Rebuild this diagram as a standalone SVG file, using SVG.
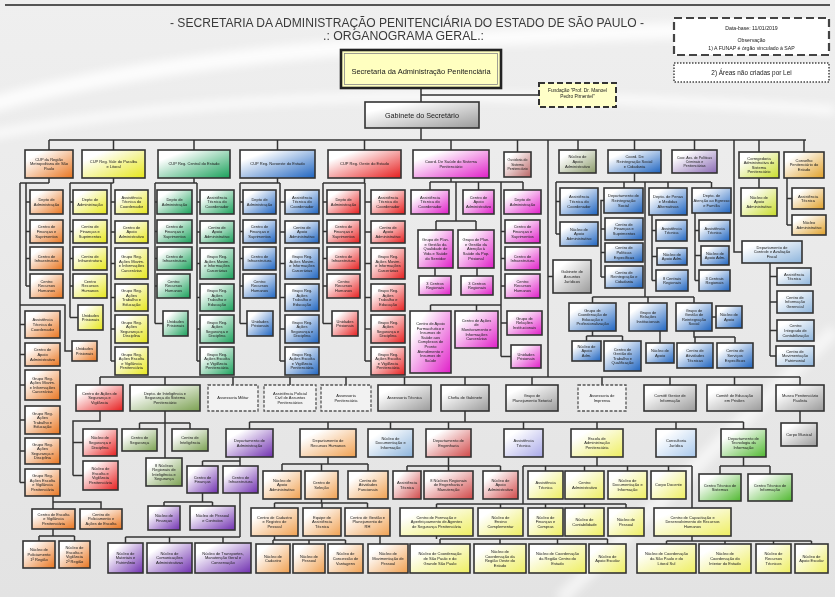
<svg xmlns="http://www.w3.org/2000/svg" width="835" height="597" viewBox="0 0 835 597">
<defs>
<style>
.b{stroke:#333;stroke-width:1.6}
.d{stroke:#555;stroke-width:1.3;stroke-dasharray:3 1.6;fill:#f2f2f2}
.t{font-family:"Liberation Sans",Arial,sans-serif;font-size:4px;fill:#1a1a1a;text-anchor:middle}
.s{font-size:3.5px}
.c{fill:none;stroke:#333;stroke-width:1.5}
</style>
<linearGradient id="bg" x1="0" y1="0" x2="0" y2="1"><stop offset="0" stop-color="#efefef"/><stop offset="1" stop-color="#e3e3e3"/></linearGradient>
<filter id="blur"><feGaussianBlur stdDeviation="5"/></filter>
<linearGradient id="gOr" x1="0" y1="0" x2="1" y2="1"><stop offset=".2" stop-color="#fff"/><stop offset="1" stop-color="#e8741e"/></linearGradient>
<linearGradient id="gYe" x1="0" y1="0" x2="1" y2="1"><stop offset=".2" stop-color="#fff"/><stop offset="1" stop-color="#e6e61a"/></linearGradient>
<linearGradient id="gGr" x1="0" y1="0" x2="1" y2="1"><stop offset=".2" stop-color="#fff"/><stop offset="1" stop-color="#19a05a"/></linearGradient>
<linearGradient id="gBl" x1="0" y1="0" x2="1" y2="1"><stop offset=".2" stop-color="#fff"/><stop offset="1" stop-color="#1e64c0"/></linearGradient>
<linearGradient id="gRe" x1="0" y1="0" x2="1" y2="1"><stop offset=".2" stop-color="#fff"/><stop offset="1" stop-color="#e61e1e"/></linearGradient>
<linearGradient id="gPk" x1="0" y1="0" x2="1" y2="1"><stop offset=".2" stop-color="#fff"/><stop offset="1" stop-color="#e01ec8"/></linearGradient>
<linearGradient id="gRo" x1="0" y1="0" x2="1" y2="1"><stop offset=".2" stop-color="#fff"/><stop offset="1" stop-color="#b86464"/></linearGradient>
<linearGradient id="gOl" x1="0" y1="0" x2="1" y2="1"><stop offset=".2" stop-color="#fff"/><stop offset="1" stop-color="#8a9a6a"/></linearGradient>
<linearGradient id="gLv" x1="0" y1="0" x2="1" y2="1"><stop offset=".2" stop-color="#fff"/><stop offset="1" stop-color="#8a6ab4"/></linearGradient>
<linearGradient id="gYg" x1="0" y1="0" x2="1" y2="1"><stop offset=".2" stop-color="#fff"/><stop offset="1" stop-color="#c8dc28"/></linearGradient>
<linearGradient id="gAm" x1="0" y1="0" x2="1" y2="1"><stop offset=".2" stop-color="#fff"/><stop offset="1" stop-color="#e0a028"/></linearGradient>
<linearGradient id="gGy" x1="0" y1="0" x2="1" y2="1"><stop offset=".2" stop-color="#fff"/><stop offset="1" stop-color="#9a9a9a"/></linearGradient>
<linearGradient id="gLb" x1="0" y1="0" x2="1" y2="1"><stop offset=".2" stop-color="#fff"/><stop offset="1" stop-color="#8cb4dc"/></linearGradient>
<linearGradient id="gLg" x1="0" y1="0" x2="1" y2="1"><stop offset=".2" stop-color="#fff"/><stop offset="1" stop-color="#7aa050"/></linearGradient>
<linearGradient id="gPu" x1="0" y1="0" x2="1" y2="1"><stop offset=".2" stop-color="#fff"/><stop offset="1" stop-color="#7030b0"/></linearGradient>
<linearGradient id="gPe" x1="0" y1="0" x2="1" y2="1"><stop offset=".2" stop-color="#fff"/><stop offset="1" stop-color="#f0a050"/></linearGradient>
<linearGradient id="gRl" x1="0" y1="0" x2="1" y2="1"><stop offset=".2" stop-color="#fff"/><stop offset="1" stop-color="#d04848"/></linearGradient>
<linearGradient id="gLy" x1="0" y1="0" x2="1" y2="1"><stop offset=".2" stop-color="#fff"/><stop offset="1" stop-color="#eeee60"/></linearGradient>
<linearGradient id="gCj" x1="0" y1="0" x2="1" y2="1"><stop offset=".2" stop-color="#fff"/><stop offset="1" stop-color="#a8c8ec"/></linearGradient>
<linearGradient id="gTi" x1="0" y1="0" x2="1" y2="1"><stop offset=".2" stop-color="#fff"/><stop offset="1" stop-color="#50b830"/></linearGradient>
<linearGradient id="gLv2" x1="0" y1="0" x2="1" y2="1"><stop offset=".2" stop-color="#fff"/><stop offset="1" stop-color="#a8a8e8"/></linearGradient>
</defs>

<rect width="835" height="597" fill="url(#bg)"/>
<g filter="url(#blur)" fill="none" stroke="#fff">
<path d="M-10 105 C150 60 350 40 700 30" stroke-width="16" opacity=".85"/>
<path d="M-10 135 C200 95 420 85 835 110" stroke-width="9" opacity=".8"/>
<path d="M560 600 L835 330" stroke-width="14" opacity=".6"/>
</g>
<line x1="5" y1="5" x2="830" y2="5" stroke="#555" stroke-width="2"/>

<g id="title">
<text x="170" y="27" font-family="Liberation Sans, Arial, sans-serif" font-size="12" fill="#3a3a3a" textLength="474" lengthAdjust="spacingAndGlyphs">- SECRETARIA DA ADMINISTRAÇÃO PENITENCIÁRIA DO ESTADO DE SÃO PAULO -</text>
<text x="323" y="40" font-family="Liberation Sans, Arial, sans-serif" font-size="12" fill="#3a3a3a" textLength="161" lengthAdjust="spacingAndGlyphs">.: ORGANOGRAMA GERAL.:</text>
</g>

<g id="legend">
<rect x="674" y="18" width="155" height="37" fill="#fff" stroke="#444" stroke-width="2.2" stroke-dasharray="8 4"/>
<text class="t" x="751.5" y="30" style="font-size:5.2px">Data-base: 11/01/2019</text>
<text class="t" x="751.5" y="42" style="font-size:5.2px">Observação</text>
<text class="t" x="751.5" y="49.5" style="font-size:5.2px">1) A FUNAP é órgão vinculado à SAP</text>
<rect x="674" y="63" width="155" height="19" fill="#fff" stroke="#444" stroke-width="1.5" stroke-dasharray="1.5 1.5"/>
<text class="t" x="751.5" y="75" style="font-size:6.4px">2) Áreas não criadas por Lei</text>
</g>

<g id="connectors">
<path class="c" d="M421 88V102M421 95H539M421 128V140M49 140H806M49 140V150M113.5 140V150M194 140V150M277.5 140V150M364.5 140V150M451 140V150M517.5 140V152M578 140V150M634.5 140V150M694.5 140V150M759 140V152M804 140V152M734 140V252H742M548 140V377"/>
<path class="c" d="M49 178V183M20 183H49M20 183V482.5M26 183V286M26 202H30M26 231.5H30M26 258.5H30M26 286H30M20 324.5H25M20 354.5H25M20 385H25M20 420H25M20 451H25M20 482.5H25M20 305H65V351H72M53 496V509M53 502H101V509M53 529V536M39 536H74.5M39 536V541M74.5 536V541"/>
<path class="c" d="M113.5 178V183M70 183H113.5M70 183V317.5M111 183V361M70 202H73M70 231.5H73M70 258.5H73M70 286H73M70 317.5H78M111 202H115M111 232H115M111 263.5H115M111 297.5H115M111 329H115M111 361H115"/>
<path class="c" d="M194 178V183M155 183H197M155 183V323.5M197 183V361M155 202H157M155 231.5H157M155 258.5H157M155 286H157M155 323.5H163M197 202H200M197 232H200M197 263.5H200M197 297.5H200M197 329H200M197 361H200"/>
<path class="c" d="M277.5 178V183M240 183H280M240 183V323.5M280 183V361M240 202H243M240 231.5H243M240 258.5H243M240 286H243M240 323.5H247M280 202H285M280 232H285M280 263.5H285M280 297.5H285M280 329H285M280 361H285"/>
<path class="c" d="M364.5 178V183M323 183H365M323 183V323.5M365 183V361M323 202H327M323 231.5H327M323 258.5H327M323 286H327M323 323.5H332M365 202H371M365 232H371M365 263.5H371M365 297.5H371M365 329H371M365 361H371"/>
<path class="c" d="M451 178V182M430 182H523M430 182V190M478.5 182V190M523 182V190M501 182V356.5M456 182V221M436 221H476M436 221V230M476 221V230M435 268V276M477 268V276M501 231.5H505M501 258.5H505M501 286H505M430.5 305H501M430.5 305V311M476.5 305V311M501 323H507M501 356.5H511"/>
<path class="c" d="M548 276.5H553M634.5 173V182M556 182H711M556 182V234M556 201.5H560M556 234H560M624 182V188M668 182V188M711.5 182V188M604 200.5H601V277M601 229H605M601 252.5H605M601 277H605M652 215V280.5M652 230.5H656M652 256.5H657M652 280.5H656M695 213V280.5M695 230.5H699M695 255.5H701M695 280.5H699M645 182V297M592.5 297H694M592.5 297V303M648 297V303M694 297V303M592.5 331V336M586.5 336H622.5M586.5 336V341M622.5 336V341M660 331V343M712 317H716M694 331V337H735M695 337V343M735 337V343"/>
<path class="c" d="M770 263V356M770 276.5H777M770 302H777M770 330.5H777M770 356H776M759 178V188M787 178V225M787 198.5H792M787 225H792"/>
<path class="c" d="M100 377H800M100 377V385M165 377V385M233 377V385M290 377V385M346 377V385M404.5 377V385M465 377V385M532 377V385M602 377V385M670 377V385M734.5 377V385M800 377V385M800 411V423"/>
<path class="c" d="M100 411V421H73V475.5M73 442.5H83M73 475.5H83M165 411V458M139.5 423H190M139.5 423V429M190 423V429"/>
<path class="c" d="M465 411V422M249.5 422H743.5M249.5 422V429M328 422V429M390.5 422V429M448.5 422V429M523.5 422V429M597 422V429M676 422V429M743.5 422V429"/>
<path class="c" d="M240 457V466M202.5 461H240M202.5 461V466M202.5 493V502M164 502H212.5M164 502V506M212.5 502V506M240 493V537M125.5 537H240M125.5 537V543M169.5 537V543M223 537V543"/>
<path class="c" d="M328 457V464M282 464H368M282 464V471M321.5 464V471M368 464V471M321.5 499V503M274.5 503H367.5M274.5 503V508M322 503V508M367.5 503V508M274.5 536V540M273 540H345.5M273 540V544M309 540V544M345.5 540V544M380 536V544"/>
<path class="c" d="M448.5 457V466M407 466H500.5M407 466V471M448.5 466V471M500.5 466V471"/>
<path class="c" d="M597 457V466M523 466H692M545.5 466V471M584.5 466V471M627.5 466V471M668.5 466V471M523 466V504M436.5 504H626M436.5 504V508M500.5 504V508M545.5 504V508M584.5 504V508M626 504V508M692 466V508M436.5 536V539M440 539H607.5M440 539V544M500 539V544M557.5 539V544M607.5 539V544M692 536V541M666.5 541H811.5M666.5 541V544M725 541V544M773.5 541V544M811.5 541V544"/>
<path class="c" d="M743.5 457V466M720 466H770M720 466V474M770 466V474"/>
</g>

<g id="secretaria"><rect x="341" y="50" width="160" height="38" fill="#ffffc0" stroke="#222" stroke-width="2.6"/><rect x="344.5" y="53.5" width="153" height="31" fill="none" stroke="#888" stroke-width=".8"/><text class="t" x="421" y="74" style="font-size:7.5px">Secretaria da Administração Penitenciária</text></g>
<g id="fundacao"><rect x="539" y="83" width="77" height="24" fill="#ffffc8" stroke="#333" stroke-width="2" stroke-dasharray="6 3"/><text class="t" x="577.5" y="92" style="font-size:4.8px"><tspan x="577.5">Fundação "Prof. Dr. Manoel</tspan><tspan x="577.5" dy="6">Pedro Pimentel"</tspan></text></g>
<g id="gabinete"><rect class="b" x="365" y="102" width="114" height="26" fill="url(#gGy)"/><text class="t" x="422" y="117.5" style="font-size:7.2px">Gabinete do Secretário</text></g>

<g id="cup1"><rect class="b" x="25" y="150" width="48" height="28" fill="url(#gOr)"/><text class="t" x="49" y="160.8"><tspan x="49">CUP da Região</tspan><tspan x="49" dy="4.6">Metropolitana de São</tspan><tspan x="49" dy="4.6">Paulo</tspan></text></g>
<g id="cup2"><rect class="b" x="82" y="150" width="63" height="28" fill="url(#gYe)"/><text class="t" x="113.5" y="163.1"><tspan x="113.5">CUP Reg. Vale do Paraíba</tspan><tspan x="113.5" dy="4.6">e Litoral</tspan></text></g>
<g id="cup3"><rect class="b" x="158" y="150" width="72" height="28" fill="url(#gGr)"/><text class="t" x="194" y="165.4">CUP Reg. Central do Estado</text></g>
<g id="cup4"><rect class="b" x="240" y="150" width="75" height="28" fill="url(#gBl)"/><text class="t" x="277.5" y="165.4">CUP Reg. Noroeste do Estado</text></g>
<g id="cup5"><rect class="b" x="328" y="150" width="73" height="28" fill="url(#gRe)"/><text class="t" x="364.5" y="165.4">CUP Reg. Oeste do Estado</text></g>
<g id="saude"><rect class="b" x="413" y="150" width="76" height="28" fill="url(#gPk)"/><text class="t" x="451" y="163.1"><tspan x="451">Coord. De Saúde do Sistema</tspan><tspan x="451" dy="4.6">Penitenciário</tspan></text></g>
<g id="ouvidoria"><rect class="b" x="504" y="152" width="27" height="25" fill="url(#gRo)"/><text class="t s" x="517.5" y="161.3"><tspan x="517.5">Ouvidoria do</tspan><tspan x="517.5" dy="4.4">Sistema</tspan><tspan x="517.5" dy="4.4">Penitenciário</tspan></text></g>
<g id="nucleo-apoio"><rect class="b" x="559" y="150" width="37" height="23" fill="url(#gOl)"/><text class="t" x="577.5" y="158.3"><tspan x="577.5">Núcleo de</tspan><tspan x="577.5" dy="4.6">Apoio</tspan><tspan x="577.5" dy="4.6">Administrativo</tspan></text></g>
<g id="reintegracao"><rect class="b" x="608" y="150" width="53" height="23" fill="url(#gBl)"/><text class="t" x="634.5" y="158.3"><tspan x="634.5">Coord. De</tspan><tspan x="634.5" dy="4.6">Reintegração Social</tspan><tspan x="634.5" dy="4.6">e Cidadania</tspan></text></g>
<g id="politicas"><rect class="b" x="672" y="150" width="45" height="23" fill="url(#gLv)"/><text class="t s" x="694.5" y="158.5"><tspan x="694.5">Coor. Ass. de Políticas</tspan><tspan x="694.5" dy="4.4">Criminais e</tspan><tspan x="694.5" dy="4.4">Penitenciárias</tspan></text></g>
<g id="corregedoria"><rect class="b" x="739" y="152" width="40" height="26" fill="url(#gYg)"/><text class="t" x="759" y="159.5"><tspan x="759">Corregedoria</tspan><tspan x="759" dy="4.6">Administrativa do</tspan><tspan x="759" dy="4.6">Sistema</tspan><tspan x="759" dy="4.6">Penitenciário</tspan></text></g>
<g id="conselho"><rect class="b" x="784" y="152" width="40" height="26" fill="url(#gAm)"/><text class="t" x="804" y="161.8"><tspan x="804">Conselho</tspan><tspan x="804" dy="4.6">Penitenciário do</tspan><tspan x="804" dy="4.6">Estado</tspan></text></g>

<!-- CUP RMSP children -->
<g id="o1"><rect class="b" x="30" y="190" width="33" height="24" fill="url(#gOr)"/><text class="t" x="46.5" y="201.1"><tspan x="46.5">Depto de</tspan><tspan x="46.5" dy="4.6">Administração</tspan></text></g>
<g id="o2"><rect class="b" x="30" y="220" width="33" height="23" fill="url(#gOr)"/><text class="t" x="46.5" y="228.3"><tspan x="46.5">Centro de</tspan><tspan x="46.5" dy="4.6">Finanças e</tspan><tspan x="46.5" dy="4.6">Suprimentos</tspan></text></g>
<g id="o3"><rect class="b" x="30" y="247" width="33" height="23" fill="url(#gOr)"/><text class="t" x="46.5" y="257.6"><tspan x="46.5">Centro de</tspan><tspan x="46.5" dy="4.6">Infraestrutura</tspan></text></g>
<g id="o4"><rect class="b" x="30" y="274" width="33" height="24" fill="url(#gOr)"/><text class="t" x="46.5" y="282.8"><tspan x="46.5">Centro</tspan><tspan x="46.5" dy="4.6">Recursos</tspan><tspan x="46.5" dy="4.6">Humanos</tspan></text></g>
<g id="o5"><rect class="b" x="25" y="311" width="35" height="27" fill="url(#gOr)"/><text class="t" x="42.5" y="321.3"><tspan x="42.5">Assistência</tspan><tspan x="42.5" dy="4.6">Técnica do</tspan><tspan x="42.5" dy="4.6">Coordenador</tspan></text></g>
<g id="o6"><rect class="b" x="25" y="343" width="35" height="23" fill="url(#gOr)"/><text class="t" x="42.5" y="351.3"><tspan x="42.5">Centro de</tspan><tspan x="42.5" dy="4.6">Apoio</tspan><tspan x="42.5" dy="4.6">Administrativo</tspan></text></g>
<g id="o7"><rect class="b" x="25" y="370" width="35" height="30" fill="url(#gOr)"/><text class="t" x="42.5" y="379.5"><tspan x="42.5">Grupo Reg.</tspan><tspan x="42.5" dy="4.6">Ações Movim.</tspan><tspan x="42.5" dy="4.6">e Informações</tspan><tspan x="42.5" dy="4.6">Carcerárias</tspan></text></g>
<g id="o8"><rect class="b" x="25" y="406" width="35" height="28" fill="url(#gOr)"/><text class="t" x="42.5" y="414.5"><tspan x="42.5">Grupo Reg.</tspan><tspan x="42.5" dy="4.6">Ações</tspan><tspan x="42.5" dy="4.6">Trabalho e</tspan><tspan x="42.5" dy="4.6">Educação</tspan></text></g>
<g id="o9"><rect class="b" x="25" y="438" width="35" height="26" fill="url(#gOr)"/><text class="t" x="42.5" y="445.5"><tspan x="42.5">Grupo Reg.</tspan><tspan x="42.5" dy="4.6">Ações</tspan><tspan x="42.5" dy="4.6">Segurança e</tspan><tspan x="42.5" dy="4.6">Disciplina</tspan></text></g>
<g id="o10"><rect class="b" x="25" y="469" width="35" height="27" fill="url(#gOr)"/><text class="t" x="42.5" y="477"><tspan x="42.5">Grupo Reg.</tspan><tspan x="42.5" dy="4.6">Ações Escolta</tspan><tspan x="42.5" dy="4.6">e Vigilância</tspan><tspan x="42.5" dy="4.6">Penitenciária</tspan></text></g>
<g id="o11"><rect class="b" x="72" y="341" width="25" height="20" fill="url(#gOr)"/><text class="t" x="84.5" y="350.1"><tspan x="84.5">Unidades</tspan><tspan x="84.5" dy="4.6">Prisionais</tspan></text></g>
<g id="o12"><rect class="b" x="32" y="509" width="43" height="20" fill="url(#gOr)"/><text class="t" x="53.5" y="515.8"><tspan x="53.5">Centro de Escolta</tspan><tspan x="53.5" dy="4.6">e Vigilância</tspan><tspan x="53.5" dy="4.6">Penitenciária</tspan></text></g>
<g id="o13"><rect class="b" x="80" y="509" width="42" height="20" fill="url(#gOr)"/><text class="t" x="101" y="515.8"><tspan x="101">Centro de</tspan><tspan x="101" dy="4.6">Policiamento e</tspan><tspan x="101" dy="4.6">Ações de Escolta</tspan></text></g>
<g id="o14"><rect class="b" x="23" y="541" width="32" height="27" fill="url(#gOr)"/><text class="t" x="39" y="551.3"><tspan x="39">Núcleo de</tspan><tspan x="39" dy="4.6">Policiamento</tspan><tspan x="39" dy="4.6">1ª Região</tspan></text></g>
<g id="o15"><rect class="b" x="59" y="541" width="31" height="27" fill="url(#gOr)"/><text class="t" x="74.5" y="549"><tspan x="74.5">Núcleo de</tspan><tspan x="74.5" dy="4.6">Escolta e</tspan><tspan x="74.5" dy="4.6">Vigilância</tspan><tspan x="74.5" dy="4.6">2ª Região</tspan></text></g>

<!-- CUP Vale children -->
<g id="y1"><rect class="b" x="73" y="190" width="34" height="24" fill="url(#gYe)"/><text class="t" x="90" y="201.1"><tspan x="90">Depto de</tspan><tspan x="90" dy="4.6">Administração</tspan></text></g>
<g id="y2"><rect class="b" x="73" y="220" width="34" height="23" fill="url(#gYe)"/><text class="t" x="90" y="228.3"><tspan x="90">Centro de</tspan><tspan x="90" dy="4.6">Finanças e</tspan><tspan x="90" dy="4.6">Suprimentos</tspan></text></g>
<g id="y3"><rect class="b" x="73" y="247" width="34" height="23" fill="url(#gYe)"/><text class="t" x="90" y="257.6"><tspan x="90">Centro de</tspan><tspan x="90" dy="4.6">Infraestrutura</tspan></text></g>
<g id="y4"><rect class="b" x="73" y="274" width="34" height="24" fill="url(#gYe)"/><text class="t" x="90" y="282.8"><tspan x="90">Centro</tspan><tspan x="90" dy="4.6">Recursos</tspan><tspan x="90" dy="4.6">Humanos</tspan></text></g>
<g id="y5"><rect class="b" x="78" y="305" width="25" height="25" fill="url(#gYe)"/><text class="t" x="90.5" y="316.6"><tspan x="90.5">Unidades</tspan><tspan x="90.5" dy="4.6">Prisionais</tspan></text></g>
<g id="y6"><rect class="b" x="115" y="190" width="33" height="24" fill="url(#gYe)"/><text class="t" x="131.5" y="198.8"><tspan x="131.5">Assistência</tspan><tspan x="131.5" dy="4.6">Técnica do</tspan><tspan x="131.5" dy="4.6">Coordenador</tspan></text></g>
<g id="y7"><rect class="b" x="115" y="221" width="33" height="22" fill="url(#gYe)"/><text class="t" x="131.5" y="228.8"><tspan x="131.5">Centro de</tspan><tspan x="131.5" dy="4.6">Apoio</tspan><tspan x="131.5" dy="4.6">Administrativo</tspan></text></g>
<g id="y8"><rect class="b" x="115" y="248" width="33" height="31" fill="url(#gYe)"/><text class="t" x="131.5" y="258"><tspan x="131.5">Grupo Reg.</tspan><tspan x="131.5" dy="4.6">Ações Movim.</tspan><tspan x="131.5" dy="4.6">e Informações</tspan><tspan x="131.5" dy="4.6">Carcerárias</tspan></text></g>
<g id="y9"><rect class="b" x="115" y="284" width="33" height="27" fill="url(#gYe)"/><text class="t" x="131.5" y="292"><tspan x="131.5">Grupo Reg.</tspan><tspan x="131.5" dy="4.6">Ações</tspan><tspan x="131.5" dy="4.6">Trabalho e</tspan><tspan x="131.5" dy="4.6">Educação</tspan></text></g>
<g id="y10"><rect class="b" x="115" y="315" width="33" height="28" fill="url(#gYe)"/><text class="t" x="131.5" y="323.5"><tspan x="131.5">Grupo Reg.</tspan><tspan x="131.5" dy="4.6">Ações</tspan><tspan x="131.5" dy="4.6">Segurança e</tspan><tspan x="131.5" dy="4.6">Disciplina</tspan></text></g>
<g id="y11"><rect class="b" x="115" y="347" width="33" height="28" fill="url(#gYe)"/><text class="t" x="131.5" y="355.5"><tspan x="131.5">Grupo Reg.</tspan><tspan x="131.5" dy="4.6">Ações Escolta</tspan><tspan x="131.5" dy="4.6">e Vigilância</tspan><tspan x="131.5" dy="4.6">Penitenciária</tspan></text></g>

<!-- CUP Central children -->
<g id="v1"><rect class="b" x="157" y="190" width="35" height="24" fill="url(#gGr)"/><text class="t" x="174.5" y="201.1"><tspan x="174.5">Depto de</tspan><tspan x="174.5" dy="4.6">Administração</tspan></text></g>
<g id="v2"><rect class="b" x="157" y="220" width="35" height="23" fill="url(#gGr)"/><text class="t" x="174.5" y="228.3"><tspan x="174.5">Centro de</tspan><tspan x="174.5" dy="4.6">Finanças e</tspan><tspan x="174.5" dy="4.6">Suprimentos</tspan></text></g>
<g id="v3"><rect class="b" x="157" y="247" width="35" height="23" fill="url(#gGr)"/><text class="t" x="174.5" y="257.6"><tspan x="174.5">Centro de</tspan><tspan x="174.5" dy="4.6">Infraestrutura</tspan></text></g>
<g id="v4"><rect class="b" x="157" y="274" width="33" height="24" fill="url(#gGr)"/><text class="t" x="173.5" y="282.8"><tspan x="173.5">Centro</tspan><tspan x="173.5" dy="4.6">Recursos</tspan><tspan x="173.5" dy="4.6">Humanos</tspan></text></g>
<g id="v5"><rect class="b" x="163" y="311" width="25" height="25" fill="url(#gGr)"/><text class="t" x="175.5" y="322.6"><tspan x="175.5">Unidades</tspan><tspan x="175.5" dy="4.6">Prisionais</tspan></text></g>
<g id="v6"><rect class="b" x="200" y="190" width="34" height="24" fill="url(#gGr)"/><text class="t" x="217" y="198.8"><tspan x="217">Assistência</tspan><tspan x="217" dy="4.6">Técnica do</tspan><tspan x="217" dy="4.6">Coordenador</tspan></text></g>
<g id="v7"><rect class="b" x="200" y="221" width="34" height="22" fill="url(#gGr)"/><text class="t" x="217" y="228.8"><tspan x="217">Centro de</tspan><tspan x="217" dy="4.6">Apoio</tspan><tspan x="217" dy="4.6">Administrativo</tspan></text></g>
<g id="v8"><rect class="b" x="200" y="248" width="34" height="31" fill="url(#gGr)"/><text class="t" x="217" y="258"><tspan x="217">Grupo Reg.</tspan><tspan x="217" dy="4.6">Ações Movim.</tspan><tspan x="217" dy="4.6">e Informações</tspan><tspan x="217" dy="4.6">Carcerárias</tspan></text></g>
<g id="v9"><rect class="b" x="200" y="284" width="34" height="27" fill="url(#gGr)"/><text class="t" x="217" y="292"><tspan x="217">Grupo Reg.</tspan><tspan x="217" dy="4.6">Ações</tspan><tspan x="217" dy="4.6">Trabalho e</tspan><tspan x="217" dy="4.6">Educação</tspan></text></g>
<g id="v10"><rect class="b" x="200" y="315" width="34" height="28" fill="url(#gGr)"/><text class="t" x="217" y="323.5"><tspan x="217">Grupo Reg.</tspan><tspan x="217" dy="4.6">Ações</tspan><tspan x="217" dy="4.6">Segurança e</tspan><tspan x="217" dy="4.6">Disciplina</tspan></text></g>
<g id="v11"><rect class="b" x="200" y="347" width="34" height="28" fill="url(#gGr)"/><text class="t" x="217" y="355.5"><tspan x="217">Grupo Reg.</tspan><tspan x="217" dy="4.6">Ações Escolta</tspan><tspan x="217" dy="4.6">e Vigilância</tspan><tspan x="217" dy="4.6">Penitenciária</tspan></text></g>

<!-- CUP Noroeste children -->
<g id="n1"><rect class="b" x="243" y="190" width="33" height="24" fill="url(#gBl)"/><text class="t" x="259.5" y="201.1"><tspan x="259.5">Depto de</tspan><tspan x="259.5" dy="4.6">Administração</tspan></text></g>
<g id="n2"><rect class="b" x="243" y="220" width="33" height="23" fill="url(#gBl)"/><text class="t" x="259.5" y="228.3"><tspan x="259.5">Centro de</tspan><tspan x="259.5" dy="4.6">Finanças e</tspan><tspan x="259.5" dy="4.6">Suprimentos</tspan></text></g>
<g id="n3"><rect class="b" x="243" y="247" width="33" height="23" fill="url(#gBl)"/><text class="t" x="259.5" y="257.6"><tspan x="259.5">Centro de</tspan><tspan x="259.5" dy="4.6">Infraestrutura</tspan></text></g>
<g id="n4"><rect class="b" x="243" y="274" width="33" height="24" fill="url(#gBl)"/><text class="t" x="259.5" y="282.8"><tspan x="259.5">Centro</tspan><tspan x="259.5" dy="4.6">Recursos</tspan><tspan x="259.5" dy="4.6">Humanos</tspan></text></g>
<g id="n5"><rect class="b" x="247" y="311" width="26" height="25" fill="url(#gBl)"/><text class="t" x="260" y="322.6"><tspan x="260">Unidades</tspan><tspan x="260" dy="4.6">Prisionais</tspan></text></g>
<g id="n6"><rect class="b" x="285" y="190" width="34" height="24" fill="url(#gBl)"/><text class="t" x="302" y="198.8"><tspan x="302">Assistência</tspan><tspan x="302" dy="4.6">Técnica do</tspan><tspan x="302" dy="4.6">Coordenador</tspan></text></g>
<g id="n7"><rect class="b" x="285" y="221" width="34" height="22" fill="url(#gBl)"/><text class="t" x="302" y="228.8"><tspan x="302">Centro de</tspan><tspan x="302" dy="4.6">Apoio</tspan><tspan x="302" dy="4.6">Administrativo</tspan></text></g>
<g id="n8"><rect class="b" x="285" y="248" width="34" height="31" fill="url(#gBl)"/><text class="t" x="302" y="258"><tspan x="302">Grupo Reg.</tspan><tspan x="302" dy="4.6">Ações Movim.</tspan><tspan x="302" dy="4.6">e Informações</tspan><tspan x="302" dy="4.6">Carcerárias</tspan></text></g>
<g id="n9"><rect class="b" x="285" y="284" width="34" height="27" fill="url(#gBl)"/><text class="t" x="302" y="292"><tspan x="302">Grupo Reg.</tspan><tspan x="302" dy="4.6">Ações</tspan><tspan x="302" dy="4.6">Trabalho e</tspan><tspan x="302" dy="4.6">Educação</tspan></text></g>
<g id="n10"><rect class="b" x="285" y="315" width="34" height="28" fill="url(#gBl)"/><text class="t" x="302" y="323.5"><tspan x="302">Grupo Reg.</tspan><tspan x="302" dy="4.6">Ações</tspan><tspan x="302" dy="4.6">Segurança e</tspan><tspan x="302" dy="4.6">Disciplina</tspan></text></g>
<g id="n11"><rect class="b" x="285" y="347" width="34" height="28" fill="url(#gBl)"/><text class="t" x="302" y="355.5"><tspan x="302">Grupo Reg.</tspan><tspan x="302" dy="4.6">Ações Escolta</tspan><tspan x="302" dy="4.6">e Vigilância</tspan><tspan x="302" dy="4.6">Penitenciária</tspan></text></g>

<!-- CUP Oeste children -->
<g id="w1"><rect class="b" x="327" y="190" width="33" height="24" fill="url(#gRe)"/><text class="t" x="343.5" y="201.1"><tspan x="343.5">Depto de</tspan><tspan x="343.5" dy="4.6">Administração</tspan></text></g>
<g id="w2"><rect class="b" x="327" y="220" width="33" height="23" fill="url(#gRe)"/><text class="t" x="343.5" y="228.3"><tspan x="343.5">Centro de</tspan><tspan x="343.5" dy="4.6">Finanças e</tspan><tspan x="343.5" dy="4.6">Suprimentos</tspan></text></g>
<g id="w3"><rect class="b" x="327" y="247" width="33" height="23" fill="url(#gRe)"/><text class="t" x="343.5" y="257.6"><tspan x="343.5">Centro de</tspan><tspan x="343.5" dy="4.6">Infraestrutura</tspan></text></g>
<g id="w4"><rect class="b" x="327" y="274" width="33" height="24" fill="url(#gRe)"/><text class="t" x="343.5" y="282.8"><tspan x="343.5">Centro</tspan><tspan x="343.5" dy="4.6">Recursos</tspan><tspan x="343.5" dy="4.6">Humanos</tspan></text></g>
<g id="w5"><rect class="b" x="332" y="311" width="26" height="25" fill="url(#gRe)"/><text class="t" x="345" y="322.6"><tspan x="345">Unidades</tspan><tspan x="345" dy="4.6">Prisionais</tspan></text></g>
<g id="w6"><rect class="b" x="371" y="190" width="34" height="24" fill="url(#gRe)"/><text class="t" x="388" y="198.8"><tspan x="388">Assistência</tspan><tspan x="388" dy="4.6">Técnica do</tspan><tspan x="388" dy="4.6">Coordenador</tspan></text></g>
<g id="w7"><rect class="b" x="371" y="221" width="34" height="22" fill="url(#gRe)"/><text class="t" x="388" y="228.8"><tspan x="388">Centro de</tspan><tspan x="388" dy="4.6">Apoio</tspan><tspan x="388" dy="4.6">Administrativo</tspan></text></g>
<g id="w8"><rect class="b" x="371" y="248" width="34" height="31" fill="url(#gRe)"/><text class="t" x="388" y="258"><tspan x="388">Grupo Reg.</tspan><tspan x="388" dy="4.6">Ações Movim.</tspan><tspan x="388" dy="4.6">e Informações</tspan><tspan x="388" dy="4.6">Carcerárias</tspan></text></g>
<g id="w9"><rect class="b" x="371" y="284" width="34" height="27" fill="url(#gRe)"/><text class="t" x="388" y="292"><tspan x="388">Grupo Reg.</tspan><tspan x="388" dy="4.6">Ações</tspan><tspan x="388" dy="4.6">Trabalho e</tspan><tspan x="388" dy="4.6">Educação</tspan></text></g>
<g id="w10"><rect class="b" x="371" y="315" width="34" height="28" fill="url(#gRe)"/><text class="t" x="388" y="323.5"><tspan x="388">Grupo Reg.</tspan><tspan x="388" dy="4.6">Ações</tspan><tspan x="388" dy="4.6">Segurança e</tspan><tspan x="388" dy="4.6">Disciplina</tspan></text></g>
<g id="w11"><rect class="b" x="371" y="347" width="34" height="28" fill="url(#gRe)"/><text class="t" x="388" y="355.5"><tspan x="388">Grupo Reg.</tspan><tspan x="388" dy="4.6">Ações Escolta</tspan><tspan x="388" dy="4.6">e Vigilância</tspan><tspan x="388" dy="4.6">Penitenciária</tspan></text></g>

<!-- Saude children -->
<g id="p1"><rect class="b" x="411" y="190" width="38" height="24" fill="url(#gPk)"/><text class="t" x="430" y="198.8"><tspan x="430">Assistência</tspan><tspan x="430" dy="4.6">Técnica do</tspan><tspan x="430" dy="4.6">Coordenador</tspan></text></g>
<g id="p2"><rect class="b" x="463" y="190" width="31" height="24" fill="url(#gPk)"/><text class="t" x="478.5" y="198.8"><tspan x="478.5">Centro de</tspan><tspan x="478.5" dy="4.6">Apoio</tspan><tspan x="478.5" dy="4.6">Administrativo</tspan></text></g>
<g id="p3"><rect class="b" x="504" y="190" width="37" height="24" fill="url(#gPk)"/><text class="t" x="522.5" y="201.1"><tspan x="522.5">Depto de</tspan><tspan x="522.5" dy="4.6">Administração</tspan></text></g>
<g id="p4"><rect class="b" x="418" y="230" width="35" height="38" fill="url(#gPk)"/><text class="t" x="435.5" y="241.2"><tspan x="435.5">Grupo de Plan.</tspan><tspan x="435.5" dy="4.6">e Gestão da</tspan><tspan x="435.5" dy="4.6">Qualidade de</tspan><tspan x="435.5" dy="4.6">Vida e Saúde</tspan><tspan x="435.5" dy="4.6">do Servidor</tspan></text></g>
<g id="p5"><rect class="b" x="458" y="230" width="36" height="38" fill="url(#gPk)"/><text class="t" x="476" y="241.2"><tspan x="476">Grupo de Plan.</tspan><tspan x="476" dy="4.6">e Gestão da</tspan><tspan x="476" dy="4.6">Atenção à</tspan><tspan x="476" dy="4.6">Saúde da Pop.</tspan><tspan x="476" dy="4.6">Prisional</tspan></text></g>
<g id="p6"><rect class="b" x="419" y="276" width="32" height="19" fill="url(#gPk)"/><text class="t" x="435" y="284.6"><tspan x="435">3 Centros</tspan><tspan x="435" dy="4.6">Regionais</tspan></text></g>
<g id="p7"><rect class="b" x="461" y="276" width="32" height="19" fill="url(#gPk)"/><text class="t" x="477" y="284.6"><tspan x="477">3 Centros</tspan><tspan x="477" dy="4.6">Regionais</tspan></text></g>
<g id="p8"><rect class="b" x="505" y="220" width="35" height="23" fill="url(#gPk)"/><text class="t" x="522.5" y="228.3"><tspan x="522.5">Centro de</tspan><tspan x="522.5" dy="4.6">Finanças e</tspan><tspan x="522.5" dy="4.6">Suprimentos</tspan></text></g>
<g id="p9"><rect class="b" x="505" y="247" width="35" height="23" fill="url(#gPk)"/><text class="t" x="522.5" y="257.6"><tspan x="522.5">Centro de</tspan><tspan x="522.5" dy="4.6">Infraestrutura</tspan></text></g>
<g id="p10"><rect class="b" x="505" y="274" width="35" height="24" fill="url(#gPk)"/><text class="t" x="522.5" y="282.8"><tspan x="522.5">Centro</tspan><tspan x="522.5" dy="4.6">Recursos</tspan><tspan x="522.5" dy="4.6">Humanos</tspan></text></g>
<g id="p11"><rect class="b" x="410" y="311" width="41" height="62" fill="url(#gPk)"/><text class="t" x="430.5" y="325"><tspan x="430.5">Centro de Apoio</tspan><tspan x="430.5" dy="4.6">Farmacêutico e</tspan><tspan x="430.5" dy="4.6">Insumos de</tspan><tspan x="430.5" dy="4.6">Saúde aos</tspan><tspan x="430.5" dy="4.6">Complexos de</tspan><tspan x="430.5" dy="4.6">Pronto</tspan><tspan x="430.5" dy="4.6">Atendimento e</tspan><tspan x="430.5" dy="4.6">Insumos de</tspan><tspan x="430.5" dy="4.6">Saúde</tspan></text></g>
<g id="p12"><rect class="b" x="455" y="311" width="43" height="37" fill="url(#gPk)"/><text class="t" x="476.5" y="321.7"><tspan x="476.5">Centro de Ações</tspan><tspan x="476.5" dy="4.6">de</tspan><tspan x="476.5" dy="4.6">Monitoramento e</tspan><tspan x="476.5" dy="4.6">Informações</tspan><tspan x="476.5" dy="4.6">Carcerárias</tspan></text></g>
<g id="p13"><rect class="b" x="507" y="311" width="35" height="24" fill="url(#gPk)"/><text class="t" x="524.5" y="319.8"><tspan x="524.5">Grupo de</tspan><tspan x="524.5" dy="4.6">Relações</tspan><tspan x="524.5" dy="4.6">Institucionais</tspan></text></g>
<g id="p14"><rect class="b" x="511" y="345" width="30" height="23" fill="url(#gPk)"/><text class="t" x="526" y="355.6"><tspan x="526">Unidades</tspan><tspan x="526" dy="4.6">Prisionais</tspan></text></g>

<g id="gab-juridico"><rect class="b" x="553" y="260" width="38" height="33" fill="url(#gGy)"/><text class="t" x="572" y="273.3"><tspan x="572">Gabinete de</tspan><tspan x="572" dy="4.6">Assuntos</tspan><tspan x="572" dy="4.6">Jurídicos</tspan></text></g>

<!-- Reintegracao children -->
<g id="b1"><rect class="b" x="560" y="188" width="38" height="27" fill="url(#gBl)"/><text class="t" x="579" y="198.3"><tspan x="579">Assistência</tspan><tspan x="579" dy="4.6">Técnica do</tspan><tspan x="579" dy="4.6">Coordenador</tspan></text></g>
<g id="b2"><rect class="b" x="560" y="222" width="38" height="24" fill="url(#gBl)"/><text class="t" x="579" y="230.8"><tspan x="579">Núcleo de</tspan><tspan x="579" dy="4.6">Apoio</tspan><tspan x="579" dy="4.6">Administrativo</tspan></text></g>
<g id="b3"><rect class="b" x="604" y="188" width="39" height="25" fill="url(#gBl)"/><text class="t" x="623.5" y="197.3"><tspan x="623.5">Departamento de</tspan><tspan x="623.5" dy="4.6">Reintegração</tspan><tspan x="623.5" dy="4.6">Social</tspan></text></g>
<g id="b4"><rect class="b" x="605" y="218" width="38" height="22" fill="url(#gBl)"/><text class="t" x="624" y="225.8"><tspan x="624">Centro de</tspan><tspan x="624" dy="4.6">Finanças e</tspan><tspan x="624" dy="4.6">Suprimentos</tspan></text></g>
<g id="b5"><rect class="b" x="605" y="243" width="38" height="19" fill="url(#gBl)"/><text class="t" x="624" y="249.3"><tspan x="624">Centro de</tspan><tspan x="624" dy="4.6">Políticas</tspan><tspan x="624" dy="4.6">Específicas</tspan></text></g>
<g id="b6"><rect class="b" x="605" y="266" width="38" height="22" fill="url(#gBl)"/><text class="t" x="624" y="273.8"><tspan x="624">Centro de</tspan><tspan x="624" dy="4.6">Reintegração e</tspan><tspan x="624" dy="4.6">Cidadania</tspan></text></g>
<g id="b7"><rect class="b" x="649" y="188" width="38" height="27" fill="url(#gBl)"/><text class="t" x="668" y="198.3"><tspan x="668">Depto. de Penas</tspan><tspan x="668" dy="4.6">e Medidas</tspan><tspan x="668" dy="4.6">Alternativas</tspan></text></g>
<g id="b8"><rect class="b" x="656" y="220" width="31" height="21" fill="url(#gBl)"/><text class="t" x="671.5" y="229.6"><tspan x="671.5">Assistência</tspan><tspan x="671.5" dy="4.6">Técnica</tspan></text></g>
<g id="b9"><rect class="b" x="657" y="248" width="30" height="17" fill="url(#gBl)"/><text class="t" x="672" y="255.6"><tspan x="672">Núcleo de</tspan><tspan x="672" dy="4.6">Apoio Adm.</tspan></text></g>
<g id="b10"><rect class="b" x="656" y="270" width="32" height="21" fill="url(#gBl)"/><text class="t" x="672" y="279.6"><tspan x="672">8 Centrais</tspan><tspan x="672" dy="4.6">Regionais</tspan></text></g>
<g id="b11"><rect class="b" x="692" y="188" width="39" height="25" fill="url(#gBl)"/><text class="t" x="711.5" y="197.3"><tspan x="711.5">Depto. de</tspan><tspan x="711.5" dy="4.6">Atenção ao Egresso</tspan><tspan x="711.5" dy="4.6">e Família</tspan></text></g>
<g id="b12"><rect class="b" x="699" y="220" width="31" height="21" fill="url(#gBl)"/><text class="t" x="714.5" y="229.6"><tspan x="714.5">Assistência</tspan><tspan x="714.5" dy="4.6">Técnica</tspan></text></g>
<g id="b13"><rect class="b" x="701" y="246" width="28" height="19" fill="url(#gBl)"/><text class="t" x="715" y="254.6"><tspan x="715">Núcleo de</tspan><tspan x="715" dy="4.6">Apoio Adm.</tspan></text></g>
<g id="b14"><rect class="b" x="699" y="270" width="31" height="21" fill="url(#gBl)"/><text class="t" x="714.5" y="279.6"><tspan x="714.5">3 Centrais</tspan><tspan x="714.5" dy="4.6">Regionais</tspan></text></g>
<g id="b15"><rect class="b" x="569" y="303" width="47" height="28" fill="url(#gBl)"/><text class="t" x="592.5" y="311.5"><tspan x="592.5">Grupo de</tspan><tspan x="592.5" dy="4.6">Coordenação de</tspan><tspan x="592.5" dy="4.6">Educação e</tspan><tspan x="592.5" dy="4.6">Profissionalização</tspan></text></g>
<g id="b16"><rect class="b" x="572" y="341" width="29" height="20" fill="url(#gBl)"/><text class="t" x="586.5" y="347.8"><tspan x="586.5">Núcleo de</tspan><tspan x="586.5" dy="4.6">Apoio</tspan><tspan x="586.5" dy="4.6">Adm.</tspan></text></g>
<g id="b17"><rect class="b" x="604" y="341" width="37" height="30" fill="url(#gBl)"/><text class="t" x="622.5" y="350.5"><tspan x="622.5">Centro de</tspan><tspan x="622.5" dy="4.6">Gestão do</tspan><tspan x="622.5" dy="4.6">Trabalho e</tspan><tspan x="622.5" dy="4.6">Qualificação</tspan></text></g>
<g id="b18"><rect class="b" x="629" y="303" width="38" height="28" fill="url(#gBl)"/><text class="t" x="648" y="313.8"><tspan x="648">Grupo de</tspan><tspan x="648" dy="4.6">Relações</tspan><tspan x="648" dy="4.6">Institucionais</tspan></text></g>
<g id="b19"><rect class="b" x="646" y="343" width="28" height="20" fill="url(#gBl)"/><text class="t" x="660" y="352.1"><tspan x="660">Núcleo de</tspan><tspan x="660" dy="4.6">Apoio</tspan></text></g>
<g id="b20"><rect class="b" x="676" y="303" width="36" height="28" fill="url(#gBl)"/><text class="t" x="694" y="311.5"><tspan x="694">Grupo de</tspan><tspan x="694" dy="4.6">Gestão de</tspan><tspan x="694" dy="4.6">Reintegração</tspan><tspan x="694" dy="4.6">Social</tspan></text></g>
<g id="b21"><rect class="b" x="716" y="306" width="26" height="22" fill="url(#gBl)"/><text class="t" x="729" y="316.1"><tspan x="729">Núcleo de</tspan><tspan x="729" dy="4.6">Apoio</tspan></text></g>
<g id="b22"><rect class="b" x="677" y="343" width="36" height="25" fill="url(#gBl)"/><text class="t" x="695" y="352.3"><tspan x="695">Centro de</tspan><tspan x="695" dy="4.6">Atividades</tspan><tspan x="695" dy="4.6">Técnicas</tspan></text></g>
<g id="b23"><rect class="b" x="717" y="343" width="36" height="25" fill="url(#gBl)"/><text class="t" x="735" y="352.3"><tspan x="735">Centro de</tspan><tspan x="735" dy="4.6">Serviços</tspan><tspan x="735" dy="4.6">Específicos</tspan></text></g>

<!-- Controle / Corregedoria / Conselho children -->
<g id="c1"><rect class="b" x="742" y="241" width="60" height="22" fill="url(#gLb)"/><text class="t" x="772" y="248.8"><tspan x="772">Departamento de</tspan><tspan x="772" dy="4.6">Controle e Avaliação</tspan><tspan x="772" dy="4.6">Fiscal</tspan></text></g>
<g id="c2"><rect class="b" x="777" y="268" width="34" height="17" fill="url(#gLb)"/><text class="t" x="794" y="275.6"><tspan x="794">Assistência</tspan><tspan x="794" dy="4.6">Técnica</tspan></text></g>
<g id="c3"><rect class="b" x="777" y="291" width="36" height="22" fill="url(#gLb)"/><text class="t" x="795" y="298.8"><tspan x="795">Centro de</tspan><tspan x="795" dy="4.6">Informação</tspan><tspan x="795" dy="4.6">Gerencial</tspan></text></g>
<g id="c4"><rect class="b" x="777" y="320" width="37" height="21" fill="url(#gLb)"/><text class="t" x="795.5" y="327.3"><tspan x="795.5">Centro</tspan><tspan x="795.5" dy="4.6">Integrado de</tspan><tspan x="795.5" dy="4.6">Contabilização</tspan></text></g>
<g id="c5"><rect class="b" x="776" y="346" width="38" height="20" fill="url(#gLb)"/><text class="t" x="795" y="352.8"><tspan x="795">Centro de</tspan><tspan x="795" dy="4.6">Movimentação</tspan><tspan x="795" dy="4.6">Patrimonial</tspan></text></g>
<g id="g1"><rect class="b" x="741" y="188" width="36" height="28" fill="url(#gYg)"/><text class="t" x="759" y="198.8"><tspan x="759">Núcleo de</tspan><tspan x="759" dy="4.6">Apoio</tspan><tspan x="759" dy="4.6">Administrativo</tspan></text></g>
<g id="a1"><rect class="b" x="792" y="188" width="32" height="21" fill="url(#gAm)"/><text class="t" x="808" y="197.6"><tspan x="808">Assistência</tspan><tspan x="808" dy="4.6">Técnica</tspan></text></g>
<g id="a2"><rect class="b" x="792" y="215" width="34" height="20" fill="url(#gAm)"/><text class="t" x="809" y="224.1"><tspan x="809">Núcleo</tspan><tspan x="809" dy="4.6">Administrativo</tspan></text></g>

<!-- second row -->
<g id="s1"><rect class="b" x="76" y="385" width="47" height="26" fill="url(#gRe)"/><text class="t" x="99.5" y="394.8"><tspan x="99.5">Centro de Ações de</tspan><tspan x="99.5" dy="4.6">Segurança e</tspan><tspan x="99.5" dy="4.6">Vigilância</tspan></text></g>
<g id="s2"><rect class="b" x="130" y="385" width="70" height="26" fill="url(#gLg)"/><text class="t" x="165" y="394.8"><tspan x="165">Depto. de Inteligência e</tspan><tspan x="165" dy="4.6">Segurança do Sistema</tspan><tspan x="165" dy="4.6">Penitenciário</tspan></text></g>
<g id="s3"><rect class="d" x="208" y="385" width="50" height="26"/><text class="t" x="233" y="399.4">Assessoria Militar</text></g>
<g id="s4"><rect class="d" x="264" y="385" width="52" height="26"/><text class="t" x="290" y="394.8"><tspan x="290">Assistência Policial</tspan><tspan x="290" dy="4.6">Civil de Assuntos</tspan><tspan x="290" dy="4.6">Penitenciários</tspan></text></g>
<g id="s5"><rect class="d" x="321" y="385" width="50" height="26"/><text class="t" x="346" y="397.1"><tspan x="346">Assessoria</tspan><tspan x="346" dy="4.6">Penitenciária</tspan></text></g>
<g id="s6"><rect class="b" x="378" y="385" width="53" height="26" fill="url(#gGy)"/><text class="t" x="404.5" y="399.4">Assessoria Técnica</text></g>
<g id="s7"><rect class="b" x="441" y="385" width="48" height="26" fill="url(#gGy)"/><text class="t" x="465" y="399.4">Chefia de Gabinete</text></g>
<g id="s8"><rect class="b" x="506" y="385" width="52" height="26" fill="url(#gGy)"/><text class="t" x="532" y="397.1"><tspan x="532">Grupo de</tspan><tspan x="532" dy="4.6">Planejamento Setorial</tspan></text></g>
<g id="s9"><rect class="d" x="578" y="385" width="48" height="26"/><text class="t" x="602" y="397.1"><tspan x="602">Assessoria de</tspan><tspan x="602" dy="4.6">Imprensa</tspan></text></g>
<g id="s10"><rect class="b" x="644" y="385" width="52" height="26" fill="url(#gGy)"/><text class="t" x="670" y="397.1"><tspan x="670">Comitê Gestor de</tspan><tspan x="670" dy="4.6">Informação</tspan></text></g>
<g id="s11"><rect class="b" x="707" y="385" width="55" height="26" fill="url(#gGy)"/><text class="t" x="734.5" y="397.1"><tspan x="734.5">Comitê de Educação</tspan><tspan x="734.5" dy="4.6">em Prisões</tspan></text></g>
<g id="s12"><rect class="b" x="776" y="385" width="48" height="26" fill="url(#gGy)"/><text class="t" x="800" y="397.1"><tspan x="800">Museu Penitenciário</tspan><tspan x="800" dy="4.6">Paulista</tspan></text></g>
<g id="s13"><rect class="b" x="781" y="423" width="36" height="23" fill="url(#gGy)"/><text class="t" x="799" y="435.9">Corpo Musical</text></g>

<g id="r1"><rect class="b" x="83" y="429" width="34" height="27" fill="url(#gRe)"/><text class="t" x="100" y="439.3"><tspan x="100">Núcleo de</tspan><tspan x="100" dy="4.6">Segurança e</tspan><tspan x="100" dy="4.6">Disciplina</tspan></text></g>
<g id="r2"><rect class="b" x="83" y="461" width="35" height="29" fill="url(#gRe)"/><text class="t" x="100.5" y="470"><tspan x="100.5">Núcleo de</tspan><tspan x="100.5" dy="4.6">Escolta e</tspan><tspan x="100.5" dy="4.6">Vigilância</tspan><tspan x="100.5" dy="4.6">Penitenciária</tspan></text></g>
<g id="i1"><rect class="b" x="122" y="429" width="35" height="22" fill="url(#gLg)"/><text class="t" x="139.5" y="439.1"><tspan x="139.5">Centro de</tspan><tspan x="139.5" dy="4.6">Segurança</tspan></text></g>
<g id="i2"><rect class="b" x="172" y="429" width="36" height="22" fill="url(#gLg)"/><text class="t" x="190" y="439.1"><tspan x="190">Centro de</tspan><tspan x="190" dy="4.6">Inteligência</tspan></text></g>
<g id="i3"><rect class="b" x="146" y="458" width="36" height="28" fill="url(#gLg)"/><text class="t" x="164" y="466.5"><tspan x="164">8 Núcleos</tspan><tspan x="164" dy="4.6">Regionais de</tspan><tspan x="164" dy="4.6">Inteligência e</tspan><tspan x="164" dy="4.6">Segurança</tspan></text></g>

<!-- Chefia children -->
<g id="d1"><rect class="b" x="226" y="429" width="47" height="28" fill="url(#gPu)"/><text class="t" x="249.5" y="442.1"><tspan x="249.5">Departamento de</tspan><tspan x="249.5" dy="4.6">Administração</tspan></text></g>
<g id="d2"><rect class="b" x="300" y="429" width="56" height="28" fill="url(#gPe)"/><text class="t" x="328" y="442.1"><tspan x="328">Departamento de</tspan><tspan x="328" dy="4.6">Recursos Humanos</tspan></text></g>
<g id="d3"><rect class="b" x="368" y="429" width="45" height="28" fill="url(#gLb)"/><text class="t" x="390.5" y="439.8"><tspan x="390.5">Núcleo de</tspan><tspan x="390.5" dy="4.6">Documentação e</tspan><tspan x="390.5" dy="4.6">Informação</tspan></text></g>
<g id="d4"><rect class="b" x="426" y="429" width="45" height="28" fill="url(#gRl)"/><text class="t" x="448.5" y="442.1"><tspan x="448.5">Departamento de</tspan><tspan x="448.5" dy="4.6">Engenharia</tspan></text></g>
<g id="d5"><rect class="b" x="504" y="429" width="39" height="28" fill="url(#gLv2)"/><text class="t" x="523.5" y="442.1"><tspan x="523.5">Assistência</tspan><tspan x="523.5" dy="4.6">Técnica</tspan></text></g>
<g id="d6"><rect class="b" x="571" y="429" width="52" height="28" fill="url(#gLy)"/><text class="t" x="597" y="439.8"><tspan x="597">Escola de</tspan><tspan x="597" dy="4.6">Administração</tspan><tspan x="597" dy="4.6">Penitenciária</tspan></text></g>
<g id="d7"><rect class="b" x="656" y="429" width="40" height="28" fill="url(#gCj)"/><text class="t" x="676" y="442.1"><tspan x="676">Consultoria</tspan><tspan x="676" dy="4.6">Jurídica</tspan></text></g>
<g id="d8"><rect class="b" x="721" y="429" width="45" height="28" fill="url(#gTi)"/><text class="t" x="743.5" y="439.8"><tspan x="743.5">Departamento de</tspan><tspan x="743.5" dy="4.6">Tecnologia da</tspan><tspan x="743.5" dy="4.6">Informação</tspan></text></g>

<!-- Admin children -->
<g id="e1"><rect class="b" x="187" y="466" width="31" height="27" fill="url(#gPu)"/><text class="t" x="202.5" y="478.6"><tspan x="202.5">Centro de</tspan><tspan x="202.5" dy="4.6">Finanças</tspan></text></g>
<g id="e2"><rect class="b" x="223" y="466" width="35" height="27" fill="url(#gPu)"/><text class="t" x="240.5" y="478.6"><tspan x="240.5">Centro de</tspan><tspan x="240.5" dy="4.6">Infraestrutura</tspan></text></g>
<g id="e3"><rect class="b" x="148" y="506" width="32" height="24" fill="url(#gPu)"/><text class="t" x="164" y="517.1"><tspan x="164">Núcleo de</tspan><tspan x="164" dy="4.6">Finanças</tspan></text></g>
<g id="e4"><rect class="b" x="190" y="506" width="45" height="24" fill="url(#gPu)"/><text class="t" x="212.5" y="517.1"><tspan x="212.5">Núcleo de Pessoal</tspan><tspan x="212.5" dy="4.6">e Contratos</tspan></text></g>
<g id="e5"><rect class="b" x="108" y="543" width="35" height="30" fill="url(#gPu)"/><text class="t" x="125.5" y="554.8"><tspan x="125.5">Núcleo de</tspan><tspan x="125.5" dy="4.6">Materiais e</tspan><tspan x="125.5" dy="4.6">Patrimônio</tspan></text></g>
<g id="e6"><rect class="b" x="147" y="543" width="45" height="30" fill="url(#gPu)"/><text class="t" x="169.5" y="554.8"><tspan x="169.5">Núcleo de</tspan><tspan x="169.5" dy="4.6">Comunicações</tspan><tspan x="169.5" dy="4.6">Administrativas</tspan></text></g>
<g id="e7"><rect class="b" x="195" y="543" width="56" height="30" fill="url(#gPu)"/><text class="t" x="223" y="554.8"><tspan x="223">Núcleo de Transportes,</tspan><tspan x="223" dy="4.6">Manutenção Geral e</tspan><tspan x="223" dy="4.6">Conservação</tspan></text></g>

<!-- RH children -->
<g id="h1"><rect class="b" x="263" y="471" width="38" height="28" fill="url(#gPe)"/><text class="t" x="282" y="481.8"><tspan x="282">Núcleo de</tspan><tspan x="282" dy="4.6">Apoio</tspan><tspan x="282" dy="4.6">Administrativo</tspan></text></g>
<g id="h2"><rect class="b" x="305" y="471" width="33" height="28" fill="url(#gPe)"/><text class="t" x="321.5" y="484.1"><tspan x="321.5">Centro de</tspan><tspan x="321.5" dy="4.6">Seleção</tspan></text></g>
<g id="h3"><rect class="b" x="348" y="471" width="40" height="28" fill="url(#gPe)"/><text class="t" x="368" y="481.8"><tspan x="368">Centro de</tspan><tspan x="368" dy="4.6">Atividades</tspan><tspan x="368" dy="4.6">Funcionais</tspan></text></g>
<g id="h4"><rect class="b" x="251" y="508" width="47" height="28" fill="url(#gPe)"/><text class="t" x="274.5" y="518.8"><tspan x="274.5">Centro de Cadastro</tspan><tspan x="274.5" dy="4.6">e Registro de</tspan><tspan x="274.5" dy="4.6">Pessoal</tspan></text></g>
<g id="h5"><rect class="b" x="303" y="508" width="38" height="28" fill="url(#gPe)"/><text class="t" x="322" y="518.8"><tspan x="322">Equipe de</tspan><tspan x="322" dy="4.6">Assistência</tspan><tspan x="322" dy="4.6">Técnica</tspan></text></g>
<g id="h6"><rect class="b" x="345" y="508" width="45" height="28" fill="url(#gPe)"/><text class="t" x="367.5" y="518.8"><tspan x="367.5">Centro de Gestão e</tspan><tspan x="367.5" dy="4.6">Planejamento de</tspan><tspan x="367.5" dy="4.6">RH</tspan></text></g>
<g id="h7"><rect class="b" x="256" y="544" width="34" height="29" fill="url(#gPe)"/><text class="t" x="273" y="557.6"><tspan x="273">Núcleo de</tspan><tspan x="273" dy="4.6">Cadastro</tspan></text></g>
<g id="h8"><rect class="b" x="293" y="544" width="32" height="29" fill="url(#gPe)"/><text class="t" x="309" y="557.6"><tspan x="309">Núcleo de</tspan><tspan x="309" dy="4.6">Pessoal</tspan></text></g>
<g id="h9"><rect class="b" x="328" y="544" width="35" height="29" fill="url(#gPe)"/><text class="t" x="345.5" y="555.3"><tspan x="345.5">Núcleo de</tspan><tspan x="345.5" dy="4.6">Concessão de</tspan><tspan x="345.5" dy="4.6">Vantagens</tspan></text></g>
<g id="h10"><rect class="b" x="368" y="544" width="40" height="29" fill="url(#gPe)"/><text class="t" x="388" y="555.3"><tspan x="388">Núcleo de</tspan><tspan x="388" dy="4.6">Movimentação de</tspan><tspan x="388" dy="4.6">Pessoal</tspan></text></g>

<!-- Engenharia children -->
<g id="k1"><rect class="b" x="393" y="471" width="28" height="28" fill="url(#gRl)"/><text class="t" x="407" y="484.1"><tspan x="407">Assistência</tspan><tspan x="407" dy="4.6">Técnica</tspan></text></g>
<g id="k2"><rect class="b" x="424" y="471" width="49" height="28" fill="url(#gRl)"/><text class="t" x="448.5" y="481.8"><tspan x="448.5">8 Núcleos Regionais</tspan><tspan x="448.5" dy="4.6">de Engenharia e</tspan><tspan x="448.5" dy="4.6">Manutenção</tspan></text></g>
<g id="k3"><rect class="b" x="483" y="471" width="35" height="28" fill="url(#gRl)"/><text class="t" x="500.5" y="481.8"><tspan x="500.5">Núcleo de</tspan><tspan x="500.5" dy="4.6">Apoio</tspan><tspan x="500.5" dy="4.6">Administrativo</tspan></text></g>

<!-- Escola children -->
<g id="l1"><rect class="b" x="528" y="471" width="35" height="28" fill="url(#gLy)"/><text class="t" x="545.5" y="484.1"><tspan x="545.5">Assistência</tspan><tspan x="545.5" dy="4.6">Técnica</tspan></text></g>
<g id="l2"><rect class="b" x="565" y="471" width="39" height="28" fill="url(#gLy)"/><text class="t" x="584.5" y="484.1"><tspan x="584.5">Centro</tspan><tspan x="584.5" dy="4.6">Administrativo</tspan></text></g>
<g id="l3"><rect class="b" x="608" y="471" width="39" height="28" fill="url(#gLy)"/><text class="t" x="627.5" y="481.8"><tspan x="627.5">Núcleo de</tspan><tspan x="627.5" dy="4.6">Documentação e</tspan><tspan x="627.5" dy="4.6">Informação</tspan></text></g>
<g id="l4"><rect class="b" x="651" y="471" width="35" height="28" fill="url(#gLy)"/><text class="t" x="668.5" y="486.4">Corpo Docente</text></g>
<g id="l5"><rect class="b" x="400" y="508" width="73" height="28" fill="url(#gLy)"/><text class="t" x="436.5" y="518.8"><tspan x="436.5">Centro de Formação e</tspan><tspan x="436.5" dy="4.6">Aperfeiçoamento de Agentes</tspan><tspan x="436.5" dy="4.6">de Segurança Penitenciária</tspan></text></g>
<g id="l6"><rect class="b" x="478" y="508" width="45" height="28" fill="url(#gLy)"/><text class="t" x="500.5" y="518.8"><tspan x="500.5">Núcleo de</tspan><tspan x="500.5" dy="4.6">Ensino</tspan><tspan x="500.5" dy="4.6">Complementar</tspan></text></g>
<g id="l7"><rect class="b" x="528" y="508" width="35" height="28" fill="url(#gLy)"/><text class="t" x="545.5" y="518.8"><tspan x="545.5">Núcleo de</tspan><tspan x="545.5" dy="4.6">Finanças e</tspan><tspan x="545.5" dy="4.6">Compras</tspan></text></g>
<g id="l8"><rect class="b" x="565" y="508" width="39" height="28" fill="url(#gLy)"/><text class="t" x="584.5" y="521.1"><tspan x="584.5">Núcleo de</tspan><tspan x="584.5" dy="4.6">Contabilidade</tspan></text></g>
<g id="l9"><rect class="b" x="608" y="508" width="36" height="28" fill="url(#gLy)"/><text class="t" x="626" y="521.1"><tspan x="626">Núcleo de</tspan><tspan x="626" dy="4.6">Pessoal</tspan></text></g>
<g id="l10"><rect class="b" x="654" y="508" width="77" height="28" fill="url(#gLy)"/><text class="t" x="692.5" y="518.8"><tspan x="692.5">Centro de Capacitação e</tspan><tspan x="692.5" dy="4.6">Desenvolvimento de Recursos</tspan><tspan x="692.5" dy="4.6">Humanos</tspan></text></g>
<g id="l11"><rect class="b" x="410" y="544" width="60" height="29" fill="url(#gLy)"/><text class="t" x="440" y="555.3"><tspan x="440">Núcleo de Coordenação</tspan><tspan x="440" dy="4.6">de São Paulo e do</tspan><tspan x="440" dy="4.6">Grande São Paulo</tspan></text></g>
<g id="l12"><rect class="b" x="474" y="544" width="52" height="29" fill="url(#gLy)"/><text class="t" x="500" y="553"><tspan x="500">Núcleo de</tspan><tspan x="500" dy="4.6">Coordenação da</tspan><tspan x="500" dy="4.6">Região Oeste do</tspan><tspan x="500" dy="4.6">Estado</tspan></text></g>
<g id="l13"><rect class="b" x="529" y="544" width="57" height="29" fill="url(#gLy)"/><text class="t" x="557.5" y="555.3"><tspan x="557.5">Núcleo de Coordenação</tspan><tspan x="557.5" dy="4.6">da Região Centro do</tspan><tspan x="557.5" dy="4.6">Estado</tspan></text></g>
<g id="l14"><rect class="b" x="589" y="544" width="37" height="29" fill="url(#gLy)"/><text class="t" x="607.5" y="557.6"><tspan x="607.5">Núcleo de</tspan><tspan x="607.5" dy="4.6">Apoio Escolar</tspan></text></g>
<g id="l15"><rect class="b" x="637" y="544" width="59" height="29" fill="url(#gLy)"/><text class="t" x="666.5" y="555.3"><tspan x="666.5">Núcleo de Coordenação</tspan><tspan x="666.5" dy="4.6">da São Paulo e do</tspan><tspan x="666.5" dy="4.6">Litoral Sul</tspan></text></g>
<g id="l16"><rect class="b" x="699" y="544" width="52" height="29" fill="url(#gLy)"/><text class="t" x="725" y="555.3"><tspan x="725">Núcleo de</tspan><tspan x="725" dy="4.6">Coordenação do</tspan><tspan x="725" dy="4.6">Interior do Estado</tspan></text></g>
<g id="l17"><rect class="b" x="756" y="544" width="35" height="29" fill="url(#gLy)"/><text class="t" x="773.5" y="555.3"><tspan x="773.5">Núcleo de</tspan><tspan x="773.5" dy="4.6">Recursos</tspan><tspan x="773.5" dy="4.6">Técnicos</tspan></text></g>
<g id="l18"><rect class="b" x="795" y="544" width="33" height="29" fill="url(#gLy)"/><text class="t" x="811.5" y="557.6"><tspan x="811.5">Núcleo de</tspan><tspan x="811.5" dy="4.6">Apoio Escolar</tspan></text></g>

<!-- TI children -->
<g id="t1"><rect class="b" x="699" y="474" width="42" height="27" fill="url(#gTi)"/><text class="t" x="720" y="486.6"><tspan x="720">Centro Técnico de</tspan><tspan x="720" dy="4.6">Sistemas</tspan></text></g>
<g id="t2"><rect class="b" x="748" y="474" width="44" height="27" fill="url(#gTi)"/><text class="t" x="770" y="486.6"><tspan x="770">Centro Técnico de</tspan><tspan x="770" dy="4.6">Informação</tspan></text></g>
</svg>
